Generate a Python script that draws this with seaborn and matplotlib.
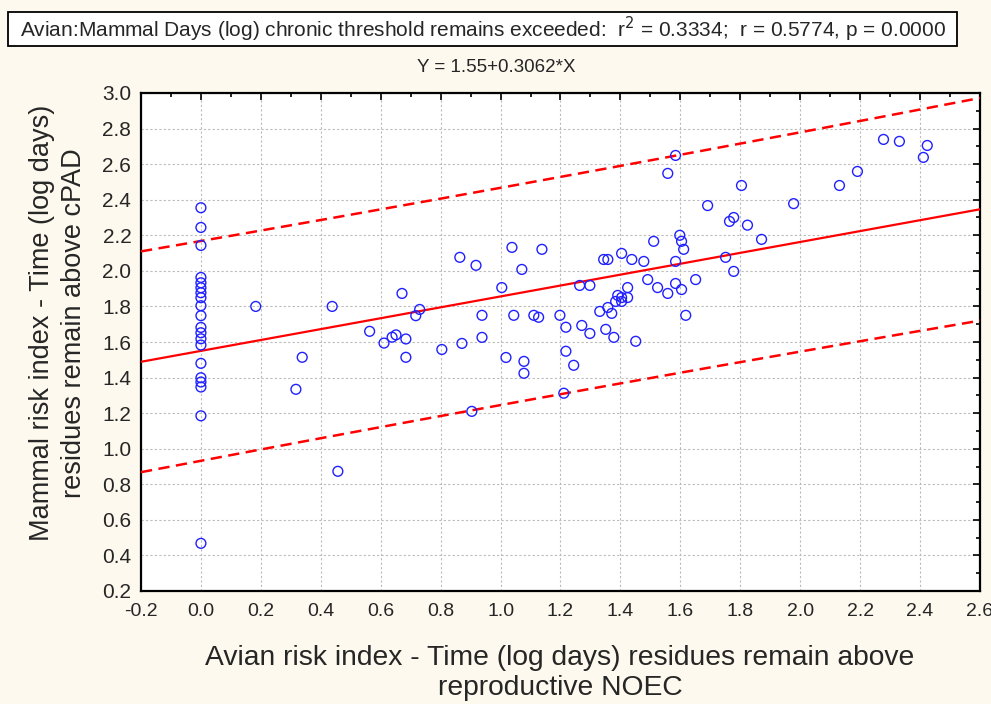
import numpy as np
import pandas as pd
import matplotlib
matplotlib.use("Agg")
import matplotlib.pyplot as plt
import seaborn as sns
from matplotlib.patches import Rectangle
from matplotlib.ticker import MultipleLocator

# ---- data ----
x_zero_col = [0.0] * 20
y_zero_col = [2.355, 2.244, 2.143, 1.963, 1.933, 1.905, 1.877, 1.849, 1.804, 1.748,
              1.682, 1.652, 1.618, 1.583, 1.480, 1.399, 1.375, 1.347, 1.185, 0.468]

x_other = [0.183, 0.438, 0.317, 0.338, 0.457,
           0.563, 0.611, 0.638, 0.651, 0.671, 0.684, 0.684, 0.717, 0.730,
           0.804, 0.871, 0.864, 0.918, 0.938, 0.938, 0.904,
           1.004, 1.018, 1.038, 1.044, 1.071, 1.078, 1.078, 1.111, 1.127, 1.138,
           1.198, 1.218, 1.218, 1.211, 1.244, 1.264, 1.298, 1.271, 1.298,
           1.331, 1.344, 1.358, 1.351, 1.358, 1.371, 1.378, 1.384, 1.391, 1.404, 1.404, 1.404,
           1.424, 1.424, 1.438, 1.451,
           1.478, 1.491, 1.511, 1.524, 1.558, 1.584, 1.584, 1.598, 1.604, 1.611, 1.604, 1.618, 1.651,
           1.558, 1.584, 1.691, 1.751, 1.764, 1.778, 1.778, 1.804, 1.824, 1.871, 1.978,
           2.131, 2.191, 2.278, 2.331, 2.411, 2.424]
y_other = [1.800, 1.800, 1.334, 1.514, 0.873,
           1.660, 1.594, 1.627, 1.640, 1.873, 1.617, 1.514, 1.748, 1.783,
           1.558, 1.592, 2.076, 2.031, 1.750, 1.626, 1.210,
           1.906, 1.513, 2.132, 1.750, 2.008, 1.491, 1.424, 1.750, 1.739, 2.121,
           1.750, 1.683, 1.548, 1.312, 1.469, 1.918, 1.918, 1.693, 1.648,
           1.772, 2.064, 2.064, 1.671, 1.794, 1.761, 1.626, 1.828, 1.862, 1.850, 1.828, 2.098,
           1.906, 1.850, 2.064, 1.604,
           2.053, 1.951, 2.166, 1.906, 1.873, 2.053, 1.929, 2.200, 2.166, 2.121, 1.895, 1.750, 1.951,
           2.548, 2.649, 2.367, 2.076, 2.278, 2.300, 1.997, 2.480, 2.257, 2.177, 2.378,
           2.480, 2.559, 2.739, 2.728, 2.638, 2.705]

fit_intercept = 1.55
fit_slope = 0.3062

x_ticks = [-0.2, 0.0, 0.2, 0.4, 0.6, 0.8, 1.0, 1.2, 1.4, 1.6, 1.8, 2.0, 2.2, 2.4, 2.6]
y_ticks = [0.2, 0.4, 0.6, 0.8, 1.0, 1.2, 1.4, 1.6, 1.8, 2.0, 2.2, 2.4, 2.6, 2.8, 3.0]

title_text = "Avian:Mammal Days (log) chronic threshold remains exceeded:  r$^2$ = 0.3334;  r = 0.5774, p = 0.0000"
eq_text = "Y = 1.55+0.3062*X"
x_label = "Avian risk index - Time (log days) residues remain above\nreproductive NOEC"
y_label = "Mammal risk index - Time (log days)\nresidues remain above cPAD"

# ---- figure ----
sns.set_theme(style="white")
plt.rcParams['font.family'] = ['Liberation Sans', 'DejaVu Sans']
REG = ['Liberation Sans', 'DejaVu Sans']

bg = '#FEF9EE'
fig = plt.figure(figsize=(9.91, 7.04), dpi=100, facecolor=bg)
W, H = 991, 704
ax = fig.add_axes([141 / W, 1 - 591 / H, (980 - 141) / W, (591 - 93) / H])
ax.set_facecolor('white')

df = pd.DataFrame({'x': x_zero_col + x_other, 'y': y_zero_col + y_other})

# regression line and 95% prediction band
xs = np.linspace(x_ticks[0], x_ticks[-1], 200)
yfit = fit_intercept + fit_slope * xs
xv = df['x'].to_numpy(); yv = df['y'].to_numpy()
n = len(xv)
resid = yv - (fit_intercept + fit_slope * xv)
s = np.sqrt(np.sum(resid ** 2) / (n - 2))
sxx = np.sum((xv - xv.mean()) ** 2)
half = 1.984 * s * np.sqrt(1 + 1 / n + (xs - xv.mean()) ** 2 / sxx)

ax.plot(xs, yfit, color='#FF0000', lw=1.6, zorder=3)
ax.plot(xs, yfit + half, color='#FF0000', lw=1.8, ls=(0, (4.5, 2.6)), zorder=3)
ax.plot(xs, yfit - half, color='#FF0000', lw=1.8, ls=(0, (4.5, 2.6)), zorder=3)

sns.scatterplot(data=df, x='x', y='y', ax=ax, marker='o', s=50,
                facecolors='none', edgecolor='#2020FF', linewidth=1.0, zorder=4)

ax.set_xlim(x_ticks[0], x_ticks[-1])
ax.set_ylim(y_ticks[0], y_ticks[-1])
ax.set_xticks(x_ticks)
ax.set_yticks(y_ticks)
ax.set_xticklabels([f"{t:.1f}" for t in x_ticks], family=REG, fontsize=14)
ax.set_yticklabels([f"{t:.1f}" for t in y_ticks], family=REG, fontsize=15)
ax.xaxis.set_minor_locator(MultipleLocator(0.1))
ax.yaxis.set_minor_locator(MultipleLocator(0.1))
ax.tick_params(which='both', direction='in', top=True, right=True, color='black', width=1.2)
ax.tick_params(which='major', length=5)
ax.tick_params(which='major', axis='y', pad=7)
ax.tick_params(which='major', axis='x', pad=9)
ax.tick_params(which='minor', length=3)
ax.grid(True, which='major', color='#BBBBBB', ls=(0, (2, 2)), lw=0.8)
ax.set_axisbelow(True)
for sp in ax.spines.values():
    sp.set_color('black'); sp.set_linewidth(1.6)
ax.set_xlabel(''); ax.set_ylabel('')

fig.text(560 / W, 1 - 673 / H, x_label, ha='center', va='center', fontsize=20.3,
         family=REG, linespacing=1.2)
fig.text(58 / W, 1 - 323 / H, y_label, ha='center', va='center', rotation=90,
         fontsize=19.5, family=REG, linespacing=1.32, multialignment='center')

fig.patches.append(Rectangle((8 / W, 1 - 46 / H), 949 / W, 34 / H, transform=fig.transFigure,
                             facecolor='white', edgecolor='black', lw=1.3, zorder=1))
fig.text(483 / W, 1 - 29 / H, title_text, ha='center', va='center', fontsize=15,
         family=REG, zorder=2)
fig.text(496 / W, 1 - 68 / H, eq_text, ha='center', va='center', fontsize=13.5, family=REG)

fig.savefig('out.png', dpi=100, facecolor=bg)
